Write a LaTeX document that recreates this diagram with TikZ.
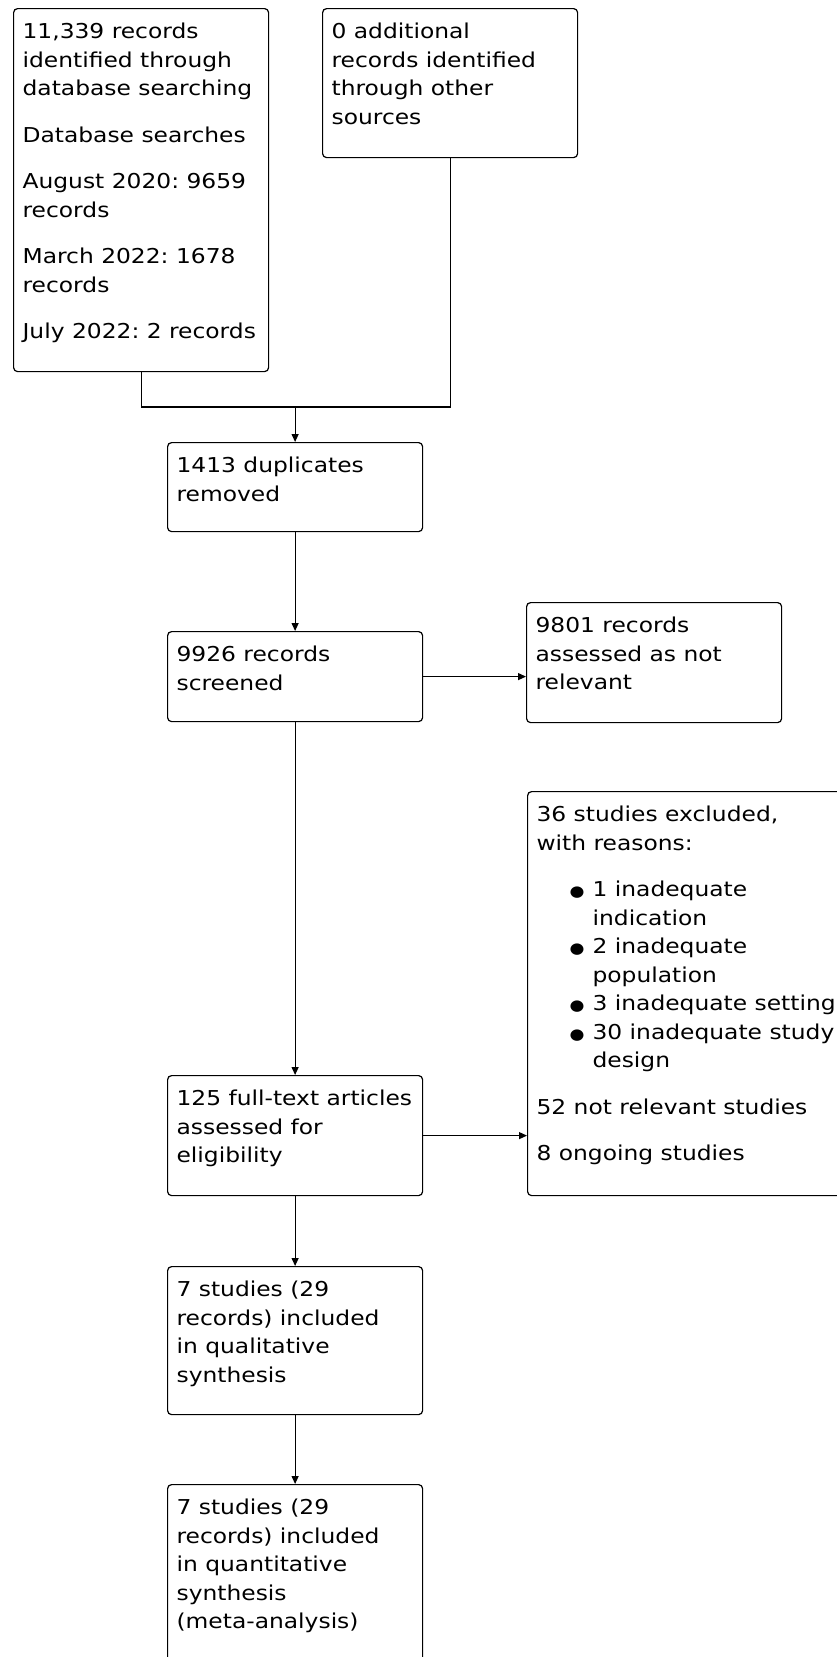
\documentclass[tikz,border=0pt]{standalone}
\usepackage{fontspec}
\setmainfont{DejaVu Sans}[FakeStretch=1.14]
\usetikzlibrary{arrows.meta}
\tikzset{
  stage/.style = {draw, line width=1.2pt, rounded corners=4pt, anchor=north west,
    inner xsep=9pt, inner ysep=0pt, font=\fontsize{20.5}{28.5}\selectfont},
  link/.style = {line width=1.2pt},
  flow/.style = {link, -{Triangle[length=8pt,width=7pt]}}
}
\newcommand{\stagetext}[3]{\parbox[t][#2][t]{#1}{\raggedright\frenchspacing\rule{0pt}{30pt}#3}}
\newcommand{\bul}{\hspace*{33pt}\makebox[23pt][l]{\fontsize{15}{15}\selectfont ●}}
\newcommand{\hang}{\hspace*{56pt}}

\begin{document}
\begin{tikzpicture}[x=1pt,y=-1pt]
  \useasboundingbox (0,0) rectangle (837,1657);
  % identification
  \node[stage] (search) at (13,8) {\stagetext{237pt}{363pt}{11,339 records\\ identified through\\ database searching\\[18pt]
    Database searches\\[18pt] August 2020: 9659\\ records\\[18pt] March 2022: 1678\\ records\\[18pt] July 2022: 2 records}};
  \node[stage] (other) at (322,8) {\stagetext{237pt}{149pt}{0 additional\\ records identified\\ through other\\ sources}};
  % screening
  \node[stage] (dupl) at (167,442) {\stagetext{237pt}{89pt}{1413 duplicates\\ removed}};
  \node[stage] (screen) at (167,631) {\stagetext{237pt}{90pt}{9926 records\\ screened}};
  \node[stage] (notrel) at (526,602) {\stagetext{237pt}{120pt}{9801 records\\ assessed as not\\ relevant}};
  % eligibility
  \node[stage] (fulltext) at (167,1075) {\stagetext{237pt}{120pt}{\mbox{125 full-text articles}\\ assessed for\\ eligibility}};
  \node[stage] (excl) at (527,791) {\stagetext{312pt}{404pt}{36 studies excluded,\\ with reasons:\\[18pt]
    \bul 1 inadequate\\ \hang indication\\ \bul 2 inadequate\\ \hang population\\
    \bul 3 inadequate setting\\ \bul 30 inadequate study\\ \hang design\\[18pt]
    52 not relevant studies\\[18pt] 8 ongoing studies}};
  % included
  \node[stage] (qual) at (167,1266) {\stagetext{237pt}{148pt}{7 studies (29\\ records) included\\ in qualitative\\ synthesis}};
  \node[stage] (quant) at (167,1484) {\stagetext{237pt}{185pt}{7 studies (29\\ records) included\\ in quantitative\\ synthesis\\ (meta-analysis)}};

  \coordinate (merge) at (dupl.north |- 0,407);
  \draw[link] (search.south) |- (merge) -| (other.south);
  \draw[flow] (merge) -- (dupl.north);
  \draw[flow] (dupl) -- (screen);
  \draw[flow] (screen.east) -- (screen.east -| notrel.west);
  \draw[flow] (screen) -- (fulltext);
  \draw[flow] (fulltext.east) -- (fulltext.east -| excl.west);
  \draw[flow] (fulltext) -- (qual);
  \draw[flow] (qual) -- (quant);
\end{tikzpicture}
\end{document}
